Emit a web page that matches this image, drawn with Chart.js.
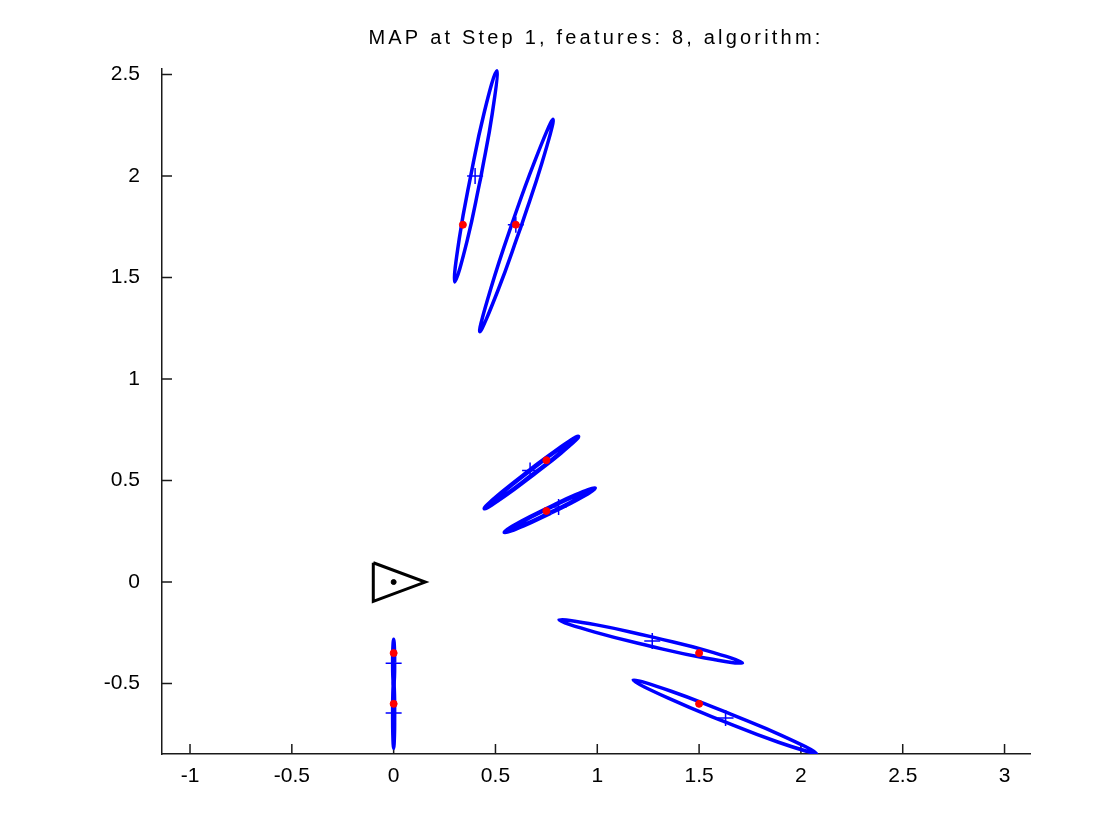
<!DOCTYPE html>
<html>
<head>
<meta charset="utf-8">
<title>MAP at Step 1</title>
<script src="https://cdn.jsdelivr.net/npm/chart.js@4.4.1/dist/chart.umd.min.js"></script>
<style>
  html, body { margin: 0; padding: 0; background: #fff; }
  #wrap { width: 1120px; height: 840px; }
</style>
</head>
<body>
<div id="wrap"><canvas id="mapChart" width="1120" height="840"></canvas></div>
<script>
// Axis ticks
const xTicks = [-1, -0.5, 0, 0.5, 1, 1.5, 2, 2.5, 3];
const yTicks = [-0.5, 0, 0.5, 1, 1.5, 2, 2.5];

// True landmark positions (red dots)
const trueX = [0.34, 0.60, 0.75, 0.75, 1.50, 1.50, 0.00, 0.00];
const trueY = [1.76, 1.76, 0.60, 0.35, -0.35, -0.60, -0.35, -0.60];

// Estimated landmark positions (blue crosses)
const estX = [0.40, 0.60, 0.67, 0.81, 1.27, 1.63, 0.00, 0.00];
const estY = [2.00, 1.76, 0.55, 0.37, -0.29, -0.67, -0.40, -0.645];

// Covariance ellipse outlines as [x, y]
const ellipse1 = [[0.428, 1.993], [0.484, 2.306], [0.506, 2.518], [0.445, 2.314], [0.379, 2.003], [0.322, 1.690], [0.300, 1.478], [0.361, 1.682], [0.428, 1.993]];
const ellipse2 = [[0.625, 1.749], [0.728, 2.064], [0.783, 2.279], [0.694, 2.076], [0.581, 1.764], [0.478, 1.448], [0.423, 1.233], [0.512, 1.436], [0.625, 1.749]];
const ellipse3 = [[0.684, 0.529], [0.821, 0.637], [0.906, 0.716], [0.808, 0.654], [0.669, 0.550], [0.533, 0.442], [0.447, 0.363], [0.545, 0.425], [0.684, 0.529]];
const ellipse4 = [[0.772, 0.342], [0.904, 0.409], [0.988, 0.462], [0.895, 0.428], [0.761, 0.365], [0.629, 0.298], [0.545, 0.245], [0.638, 0.279], [0.772, 0.342]];
const ellipse5 = [[1.268, -0.270], [0.996, -0.211], [0.812, -0.187], [0.988, -0.247], [1.257, -0.315], [1.529, -0.374], [1.713, -0.398], [1.537, -0.338], [1.268, -0.270]];
const ellipse6 = [[1.635, -0.642], [1.363, -0.538], [1.176, -0.483], [1.349, -0.572], [1.618, -0.685], [1.890, -0.789], [2.077, -0.844], [1.904, -0.755], [1.635, -0.642]];
const ellipse7 = [[0.005, -0.397], [0.004, -0.328], [0.000, -0.282], [-0.004, -0.328], [-0.005, -0.397], [-0.004, -0.466], [0.000, -0.512], [0.004, -0.466], [0.005, -0.397]];
const ellipse8 = [[0.005, -0.652], [0.004, -0.551], [0.000, -0.484], [-0.004, -0.551], [-0.005, -0.652], [-0.004, -0.753], [0.000, -0.820], [0.004, -0.753], [0.005, -0.652]];

// Robot pose (triangle) and its centre
const robotX = [-0.10, 0.155, -0.10, -0.10];
const robotY = [0.095, 0.000, -0.095, 0.095];
const robotCentre = [0, 0];

const titleText = "MAP at Step 1, features: 8, algorithm:";
const fontFamily = "'Liberation Sans', Arial, Helvetica, sans-serif";

const toPoints = (xs, ys) => xs.map((x, i) => ({ x, y: ys[i] }));
const pairsToPoints = (pairs) => pairs.map(([x, y]) => ({ x, y }));

const ellipses = [ellipse1, ellipse2, ellipse3, ellipse4, ellipse5, ellipse6, ellipse7, ellipse8];
// the two short ellipses near the robot look filled in the original
const lineWidths = [3.5, 3.5, 4.5, 4.5, 3.5, 3.5, 3.5, 3.5];

const ellipseSets = ellipses.map((e, i) => ({
  label: "ellipse " + (i + 1),
  data: pairsToPoints(e),
  showLine: true,
  borderColor: "#0000ff",
  borderWidth: lineWidths[i],
  pointRadius: 0,
  tension: 0.45,
  fill: false,
  order: 3
}));

// Draws MATLAB style inward tick marks on the axes
const inwardTicks = {
  id: "inwardTicks",
  beforeDatasetsDraw(chart) {
    const { ctx, chartArea, scales } = chart;
    ctx.save();
    ctx.strokeStyle = "#1a1a1a";
    ctx.lineWidth = 1.5;
    ctx.beginPath();
    scales.x.ticks.forEach(t => {
      const px = scales.x.getPixelForValue(t.value);
      ctx.moveTo(px, chartArea.bottom);
      ctx.lineTo(px, chartArea.bottom - 10);
    });
    scales.y.ticks.forEach(t => {
      const py = scales.y.getPixelForValue(t.value);
      ctx.moveTo(chartArea.left, py);
      ctx.lineTo(chartArea.left + 10, py);
    });
    ctx.stroke();
    ctx.restore();
  }
};

// Title centred over the axes, with the wider spacing of the original font
const titleSpacing = {
  id: "titleSpacing",
  afterInit(chart) {
    const block = chart.titleBlock;
    if (!block) return;
    const draw = block.draw.bind(block);
    block.draw = (area) => {
      const c = chart.ctx;
      const shift = (chart.chartArea.left + chart.chartArea.right) / 2 - (block.left + block.right) / 2;
      c.save();
      c.translate(shift, 0);
      c.letterSpacing = "3.2px";
      draw(area);
      c.restore();
    };
  }
};

const ctx = document.getElementById("mapChart");

new Chart(ctx, {
  type: "scatter",
  data: {
    datasets: [
      {
        label: "landmarks",
        data: toPoints(trueX, trueY),
        backgroundColor: "#ff0000",
        borderColor: "#ff0000",
        pointRadius: 3.5,
        pointStyle: "circle",
        order: 0
      },
      {
        label: "estimates",
        data: toPoints(estX, estY),
        borderColor: "#0000ff",
        borderWidth: 1.5,
        pointStyle: "cross",
        pointRadius: 8,
        order: 1
      },
      {
        label: "robot",
        data: toPoints(robotX, robotY),
        showLine: true,
        borderColor: "#000000",
        borderWidth: 3,
        pointRadius: 0,
        tension: 0,
        order: 2
      },
      {
        label: "robot centre",
        data: [{ x: robotCentre[0], y: robotCentre[1] }],
        backgroundColor: "#000000",
        borderColor: "#000000",
        pointRadius: 2.5,
        order: 0
      },
      ...ellipseSets
    ]
  },
  options: {
    responsive: false,
    animation: false,
    layout: { padding: { left: 0, right: 90, top: 0, bottom: 0 } },
    plugins: {
      legend: { display: false },
      tooltip: { enabled: false },
      title: {
        display: true,
        text: titleText,
        color: "#000000",
        font: { family: fontFamily, size: 20, weight: "normal" },
        padding: { top: 26, bottom: 19 }
      }
    },
    scales: {
      x: {
        type: "linear",
        position: "bottom",
        min: -1.1376,
        max: 3.125,
        grid: { display: false, drawTicks: false },
        border: { display: true, color: "#1a1a1a", width: 1.5 },
        ticks: {
          color: "#000000",
          font: { family: fontFamily, size: 21 },
          padding: 10,
          callback: (v) => String(v)
        },
        afterBuildTicks: (s) => { s.ticks = xTicks.map(v => ({ value: v })); },
        afterFit: (s) => { s.height = 86; }
      },
      y: {
        type: "linear",
        position: "left",
        min: -0.847,
        max: 2.527,
        grid: { display: false, drawTicks: false },
        border: { display: true, color: "#1a1a1a", width: 1.5 },
        ticks: {
          color: "#000000",
          font: { family: fontFamily, size: 21 },
          padding: 22,
          callback: (v) => String(v)
        },
        afterBuildTicks: (s) => { s.ticks = yTicks.map(v => ({ value: v })); },
        afterFit: (s) => { s.width = 162; }
      }
    }
  },
  plugins: [inwardTicks, titleSpacing]
});
</script>
</body>
</html>
